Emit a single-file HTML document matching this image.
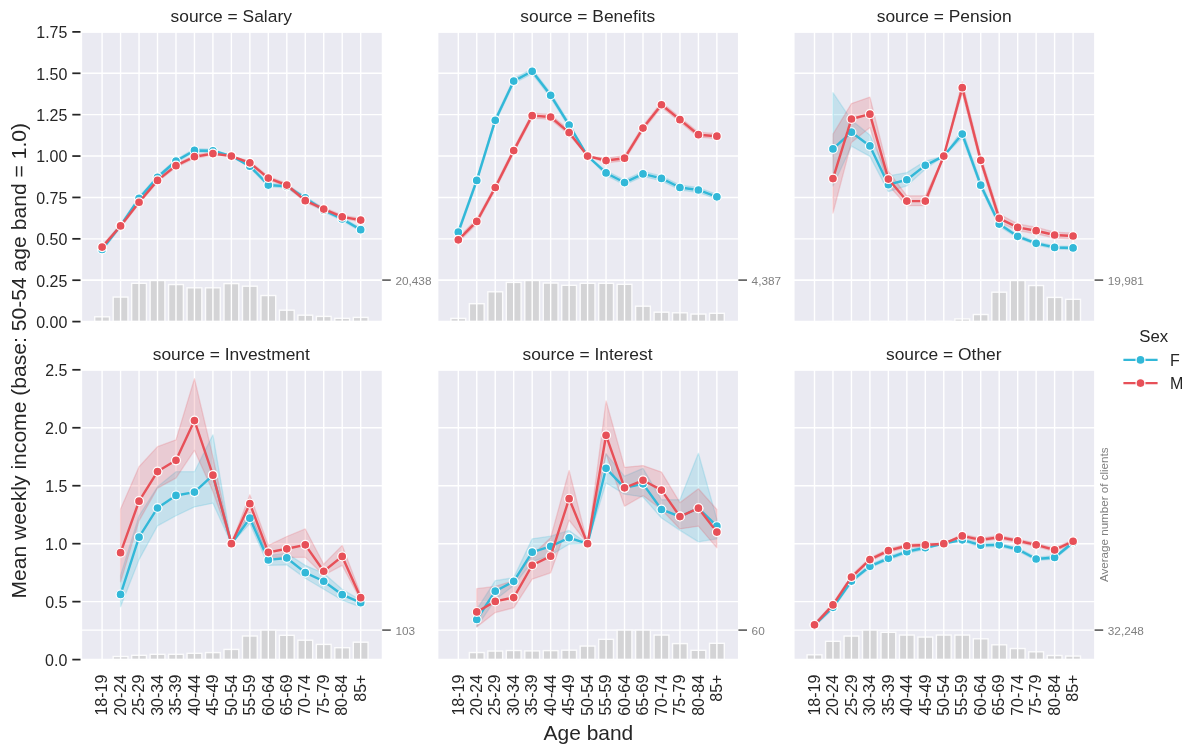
<!DOCTYPE html>
<html><head><meta charset="utf-8"><style>
html,body{margin:0;padding:0;background:#fff;width:1200px;height:755px;overflow:hidden}
svg{display:block;will-change:transform}
text{font-family:"Liberation Sans",sans-serif;white-space:pre}
</style></head><body>
<svg width="1200" height="755" viewBox="0 0 1200 755">
<rect width="1200" height="755" fill="#fff"/>
<rect x="81.3" y="31.9" width="301.3" height="289.7" fill="#EAEAF2"/>
<path d="M81.3 280.1H382.6" stroke="#fff" stroke-width="1.4"/>
<rect x="94.71" y="316.8" width="14.78" height="4.8" fill="#D4D4D6" stroke="#FBFBFC" stroke-width="1.4"/>
<rect x="113.18" y="297.05" width="14.78" height="24.55" fill="#D4D4D6" stroke="#FBFBFC" stroke-width="1.4"/>
<rect x="131.65" y="283.3" width="14.78" height="38.3" fill="#D4D4D6" stroke="#FBFBFC" stroke-width="1.4"/>
<rect x="150.12" y="280.5" width="14.78" height="41.1" fill="#D4D4D6" stroke="#FBFBFC" stroke-width="1.4"/>
<rect x="168.59" y="284.55" width="14.78" height="37.05" fill="#D4D4D6" stroke="#FBFBFC" stroke-width="1.4"/>
<rect x="187.06" y="287.8" width="14.78" height="33.8" fill="#D4D4D6" stroke="#FBFBFC" stroke-width="1.4"/>
<rect x="205.53" y="287.8" width="14.78" height="33.8" fill="#D4D4D6" stroke="#FBFBFC" stroke-width="1.4"/>
<rect x="224" y="283.6" width="14.78" height="38" fill="#D4D4D6" stroke="#FBFBFC" stroke-width="1.4"/>
<rect x="242.47" y="286.2" width="14.78" height="35.4" fill="#D4D4D6" stroke="#FBFBFC" stroke-width="1.4"/>
<rect x="260.94" y="295.55" width="14.78" height="26.05" fill="#D4D4D6" stroke="#FBFBFC" stroke-width="1.4"/>
<rect x="279.41" y="310.2" width="14.78" height="11.4" fill="#D4D4D6" stroke="#FBFBFC" stroke-width="1.4"/>
<rect x="297.88" y="315.2" width="14.78" height="6.4" fill="#D4D4D6" stroke="#FBFBFC" stroke-width="1.4"/>
<rect x="316.35" y="316.4" width="14.78" height="5.2" fill="#D4D4D6" stroke="#FBFBFC" stroke-width="1.4"/>
<rect x="334.82" y="318.3" width="14.78" height="3.3" fill="#D4D4D6" stroke="#FBFBFC" stroke-width="1.4"/>
<rect x="353.29" y="317.4" width="14.78" height="4.2" fill="#D4D4D6" stroke="#FBFBFC" stroke-width="1.4"/>
<path d="M102.1 31.9V321.6M120.57 31.9V321.6M139.04 31.9V321.6M157.51 31.9V321.6M175.98 31.9V321.6M194.45 31.9V321.6M212.92 31.9V321.6M231.39 31.9V321.6M249.86 31.9V321.6M268.33 31.9V321.6M286.8 31.9V321.6M305.27 31.9V321.6M323.74 31.9V321.6M342.21 31.9V321.6M360.68 31.9V321.6M81.3 321.6H382.6M81.3 280.21H382.6M81.3 238.83H382.6M81.3 197.44H382.6M81.3 156.06H382.6M81.3 114.67H382.6M81.3 73.29H382.6M81.3 31.9H382.6" stroke="#fff" stroke-width="1.4" fill="none"/>
<polygon points="102.1,247.77 120.57,223.93 139.04,196.78 157.51,175.59 175.98,159.37 194.45,148.77 212.92,149.1 231.39,156.06 249.86,164.5 268.33,183.37 286.8,184.7 305.27,196.28 323.74,208.53 342.21,217.31 360.68,228.07 360.68,231.38 342.21,220.62 323.74,211.85 305.27,199.59 286.8,188.01 268.33,186.68 249.86,167.81 231.39,156.06 212.92,152.42 194.45,152.08 175.98,162.68 157.51,178.9 139.04,200.09 120.57,227.24 102.1,251.08" fill="#32B8D8" fill-opacity="0.2" stroke="#32B8D8" stroke-opacity="0.2" stroke-width="1.3" stroke-linejoin="round"/>
<polygon points="102.1,245.45 120.57,224.26 139.04,200.59 157.51,178.74 175.98,164 194.45,155.06 212.92,151.92 231.39,156.06 249.86,161.19 268.33,176.42 286.8,183.37 305.27,199.02 323.74,207.38 342.21,215.16 360.68,218.47 360.68,221.78 342.21,218.47 323.74,210.69 305.27,202.33 286.8,186.68 268.33,179.73 249.86,164.5 231.39,156.06 212.92,155.23 194.45,158.37 175.98,167.31 157.51,182.05 139.04,203.9 120.57,227.57 102.1,248.76" fill="#E75058" fill-opacity="0.2" stroke="#E75058" stroke-opacity="0.2" stroke-width="1.3" stroke-linejoin="round"/>
<path d="M102.1 249.42L120.57 225.59L139.04 198.44L157.51 177.25L175.98 161.02L194.45 150.43L212.92 150.76L231.39 156.06L249.86 166.16L268.33 185.03L286.8 186.35L305.27 197.94L323.74 210.19L342.21 218.96L360.68 229.72" stroke="#32B8D8" stroke-width="2.4" fill="none" stroke-linejoin="round" stroke-linecap="round"/>
<circle cx="102.1" cy="249.42" r="4.45" fill="#32B8D8" stroke="#fff" stroke-width="1.2"/>
<circle cx="120.57" cy="225.59" r="4.45" fill="#32B8D8" stroke="#fff" stroke-width="1.2"/>
<circle cx="139.04" cy="198.44" r="4.45" fill="#32B8D8" stroke="#fff" stroke-width="1.2"/>
<circle cx="157.51" cy="177.25" r="4.45" fill="#32B8D8" stroke="#fff" stroke-width="1.2"/>
<circle cx="175.98" cy="161.02" r="4.45" fill="#32B8D8" stroke="#fff" stroke-width="1.2"/>
<circle cx="194.45" cy="150.43" r="4.45" fill="#32B8D8" stroke="#fff" stroke-width="1.2"/>
<circle cx="212.92" cy="150.76" r="4.45" fill="#32B8D8" stroke="#fff" stroke-width="1.2"/>
<circle cx="231.39" cy="156.06" r="4.45" fill="#32B8D8" stroke="#fff" stroke-width="1.2"/>
<circle cx="249.86" cy="166.16" r="4.45" fill="#32B8D8" stroke="#fff" stroke-width="1.2"/>
<circle cx="268.33" cy="185.03" r="4.45" fill="#32B8D8" stroke="#fff" stroke-width="1.2"/>
<circle cx="286.8" cy="186.35" r="4.45" fill="#32B8D8" stroke="#fff" stroke-width="1.2"/>
<circle cx="305.27" cy="197.94" r="4.45" fill="#32B8D8" stroke="#fff" stroke-width="1.2"/>
<circle cx="323.74" cy="210.19" r="4.45" fill="#32B8D8" stroke="#fff" stroke-width="1.2"/>
<circle cx="342.21" cy="218.96" r="4.45" fill="#32B8D8" stroke="#fff" stroke-width="1.2"/>
<circle cx="360.68" cy="229.72" r="4.45" fill="#32B8D8" stroke="#fff" stroke-width="1.2"/>
<path d="M102.1 247.11L120.57 225.92L139.04 202.24L157.51 180.39L175.98 165.66L194.45 156.72L212.92 153.57L231.39 156.06L249.86 162.84L268.33 178.07L286.8 185.03L305.27 200.67L323.74 209.03L342.21 216.81L360.68 220.12" stroke="#E75058" stroke-width="2.4" fill="none" stroke-linejoin="round" stroke-linecap="round"/>
<circle cx="102.1" cy="247.11" r="4.45" fill="#E75058" stroke="#fff" stroke-width="1.2"/>
<circle cx="120.57" cy="225.92" r="4.45" fill="#E75058" stroke="#fff" stroke-width="1.2"/>
<circle cx="139.04" cy="202.24" r="4.45" fill="#E75058" stroke="#fff" stroke-width="1.2"/>
<circle cx="157.51" cy="180.39" r="4.45" fill="#E75058" stroke="#fff" stroke-width="1.2"/>
<circle cx="175.98" cy="165.66" r="4.45" fill="#E75058" stroke="#fff" stroke-width="1.2"/>
<circle cx="194.45" cy="156.72" r="4.45" fill="#E75058" stroke="#fff" stroke-width="1.2"/>
<circle cx="212.92" cy="153.57" r="4.45" fill="#E75058" stroke="#fff" stroke-width="1.2"/>
<circle cx="231.39" cy="156.06" r="4.45" fill="#E75058" stroke="#fff" stroke-width="1.2"/>
<circle cx="249.86" cy="162.84" r="4.45" fill="#E75058" stroke="#fff" stroke-width="1.2"/>
<circle cx="268.33" cy="178.07" r="4.45" fill="#E75058" stroke="#fff" stroke-width="1.2"/>
<circle cx="286.8" cy="185.03" r="4.45" fill="#E75058" stroke="#fff" stroke-width="1.2"/>
<circle cx="305.27" cy="200.67" r="4.45" fill="#E75058" stroke="#fff" stroke-width="1.2"/>
<circle cx="323.74" cy="209.03" r="4.45" fill="#E75058" stroke="#fff" stroke-width="1.2"/>
<circle cx="342.21" cy="216.81" r="4.45" fill="#E75058" stroke="#fff" stroke-width="1.2"/>
<circle cx="360.68" cy="220.12" r="4.45" fill="#E75058" stroke="#fff" stroke-width="1.2"/>
<rect x="81.3" y="31.9" width="301.3" height="289.7" fill="none" stroke="#fff" stroke-width="1.74"/>
<text transform="translate(231.45,22.45) scale(1,0.963)" x="-60.91" y="0" font-size="17.4" textLength="121.38" lengthAdjust="spacing" fill="#262626">source = Salary</text>
<path d="M382.2 280.1h8.6" stroke="#6A6A6A" stroke-width="1.75"/>
<text transform="translate(395.40,284.50)" x="0.00" y="0" font-size="11.8" textLength="36.09" lengthAdjust="spacing" fill="#808080">20,438</text>
<path d="M72.3 321.6h8.2" stroke="#262626" stroke-width="1.75"/>
<text transform="translate(66.70,327.90) scale(1,1.035)" x="-30.52" y="0" font-size="16.0" textLength="31.14" lengthAdjust="spacing" fill="#262626">0.00</text>
<path d="M72.3 280.21h8.2" stroke="#262626" stroke-width="1.75"/>
<text transform="translate(66.70,286.51) scale(1,1.035)" x="-30.47" y="0" font-size="16.0" textLength="31.14" lengthAdjust="spacing" fill="#262626">0.25</text>
<path d="M72.3 238.83h8.2" stroke="#262626" stroke-width="1.75"/>
<text transform="translate(66.70,245.13) scale(1,1.035)" x="-30.52" y="0" font-size="16.0" textLength="31.14" lengthAdjust="spacing" fill="#262626">0.50</text>
<path d="M72.3 197.44h8.2" stroke="#262626" stroke-width="1.75"/>
<text transform="translate(66.70,203.74) scale(1,1.035)" x="-30.47" y="0" font-size="16.0" textLength="31.14" lengthAdjust="spacing" fill="#262626">0.75</text>
<path d="M72.3 156.06h8.2" stroke="#262626" stroke-width="1.75"/>
<text transform="translate(66.70,162.36) scale(1,1.035)" x="-30.52" y="0" font-size="16.0" textLength="31.14" lengthAdjust="spacing" fill="#262626">1.00</text>
<path d="M72.3 114.67h8.2" stroke="#262626" stroke-width="1.75"/>
<text transform="translate(66.70,120.97) scale(1,1.035)" x="-30.47" y="0" font-size="16.0" textLength="31.14" lengthAdjust="spacing" fill="#262626">1.25</text>
<path d="M72.3 73.29h8.2" stroke="#262626" stroke-width="1.75"/>
<text transform="translate(66.70,79.59) scale(1,1.035)" x="-30.52" y="0" font-size="16.0" textLength="31.14" lengthAdjust="spacing" fill="#262626">1.50</text>
<path d="M72.3 31.9h8.2" stroke="#262626" stroke-width="1.75"/>
<text transform="translate(66.70,38.20) scale(1,1.035)" x="-30.47" y="0" font-size="16.0" textLength="31.14" lengthAdjust="spacing" fill="#262626">1.75</text>
<rect x="437.5" y="31.9" width="301.3" height="289.7" fill="#EAEAF2"/>
<path d="M437.5 280.1H738.8" stroke="#fff" stroke-width="1.4"/>
<rect x="450.91" y="318.4" width="14.78" height="3.2" fill="#D4D4D6" stroke="#FBFBFC" stroke-width="1.4"/>
<rect x="469.38" y="303.7" width="14.78" height="17.9" fill="#D4D4D6" stroke="#FBFBFC" stroke-width="1.4"/>
<rect x="487.85" y="291.8" width="14.78" height="29.8" fill="#D4D4D6" stroke="#FBFBFC" stroke-width="1.4"/>
<rect x="506.32" y="282.4" width="14.78" height="39.2" fill="#D4D4D6" stroke="#FBFBFC" stroke-width="1.4"/>
<rect x="524.79" y="280.5" width="14.78" height="41.1" fill="#D4D4D6" stroke="#FBFBFC" stroke-width="1.4"/>
<rect x="543.26" y="283.05" width="14.78" height="38.55" fill="#D4D4D6" stroke="#FBFBFC" stroke-width="1.4"/>
<rect x="561.73" y="285.3" width="14.78" height="36.3" fill="#D4D4D6" stroke="#FBFBFC" stroke-width="1.4"/>
<rect x="580.2" y="283.3" width="14.78" height="38.3" fill="#D4D4D6" stroke="#FBFBFC" stroke-width="1.4"/>
<rect x="598.67" y="283.3" width="14.78" height="38.3" fill="#D4D4D6" stroke="#FBFBFC" stroke-width="1.4"/>
<rect x="617.14" y="284.3" width="14.78" height="37.3" fill="#D4D4D6" stroke="#FBFBFC" stroke-width="1.4"/>
<rect x="635.61" y="306.2" width="14.78" height="15.4" fill="#D4D4D6" stroke="#FBFBFC" stroke-width="1.4"/>
<rect x="654.08" y="312.2" width="14.78" height="9.4" fill="#D4D4D6" stroke="#FBFBFC" stroke-width="1.4"/>
<rect x="672.55" y="312.8" width="14.78" height="8.8" fill="#D4D4D6" stroke="#FBFBFC" stroke-width="1.4"/>
<rect x="691.02" y="314.05" width="14.78" height="7.55" fill="#D4D4D6" stroke="#FBFBFC" stroke-width="1.4"/>
<rect x="709.49" y="313.3" width="14.78" height="8.3" fill="#D4D4D6" stroke="#FBFBFC" stroke-width="1.4"/>
<path d="M458.3 31.9V321.6M476.77 31.9V321.6M495.24 31.9V321.6M513.71 31.9V321.6M532.18 31.9V321.6M550.65 31.9V321.6M569.12 31.9V321.6M587.59 31.9V321.6M606.06 31.9V321.6M624.53 31.9V321.6M643 31.9V321.6M661.47 31.9V321.6M679.94 31.9V321.6M698.41 31.9V321.6M716.88 31.9V321.6M437.5 321.6H738.8M437.5 280.21H738.8M437.5 238.83H738.8M437.5 197.44H738.8M437.5 156.06H738.8M437.5 114.67H738.8M437.5 73.29H738.8M437.5 31.9H738.8" stroke="#fff" stroke-width="1.4" fill="none"/>
<polygon points="458.3,229.72 476.77,177.91 495.24,117.82 513.71,78.58 532.18,68.82 550.65,92.82 569.12,122.62 587.59,156.06 606.06,170.46 624.53,180.06 643,171.45 661.47,175.92 679.94,185.03 698.41,187.51 716.88,194.3 716.88,199.26 698.41,192.48 679.94,189.99 661.47,180.89 643,176.42 624.53,185.03 606.06,175.43 587.59,156.06 569.12,127.58 550.65,97.79 532.18,73.78 513.71,83.55 495.24,122.78 476.77,182.88 458.3,234.69" fill="#32B8D8" fill-opacity="0.2" stroke="#32B8D8" stroke-opacity="0.2" stroke-width="1.3" stroke-linejoin="round"/>
<polygon points="458.3,237.34 476.77,218.96 495.24,185.03 513.71,148.11 532.18,113.18 550.65,114.51 569.12,130.07 587.59,156.06 606.06,158.04 624.53,155.73 643,125.6 661.47,102.26 679.94,117.15 698.41,132.22 716.88,133.71 716.88,138.68 698.41,137.19 679.94,122.12 661.47,107.22 643,130.56 624.53,160.69 606.06,163.01 587.59,156.06 569.12,135.03 550.65,119.47 532.18,118.15 513.71,153.08 495.24,189.99 476.77,223.93 458.3,242.3" fill="#E75058" fill-opacity="0.2" stroke="#E75058" stroke-opacity="0.2" stroke-width="1.3" stroke-linejoin="round"/>
<path d="M458.3 232.21L476.77 180.39L495.24 120.3L513.71 81.07L532.18 71.3L550.65 95.3L569.12 125.1L587.59 156.06L606.06 172.94L624.53 182.54L643 173.94L661.47 178.41L679.94 187.51L698.41 189.99L716.88 196.78" stroke="#32B8D8" stroke-width="2.4" fill="none" stroke-linejoin="round" stroke-linecap="round"/>
<circle cx="458.3" cy="232.21" r="4.45" fill="#32B8D8" stroke="#fff" stroke-width="1.2"/>
<circle cx="476.77" cy="180.39" r="4.45" fill="#32B8D8" stroke="#fff" stroke-width="1.2"/>
<circle cx="495.24" cy="120.3" r="4.45" fill="#32B8D8" stroke="#fff" stroke-width="1.2"/>
<circle cx="513.71" cy="81.07" r="4.45" fill="#32B8D8" stroke="#fff" stroke-width="1.2"/>
<circle cx="532.18" cy="71.3" r="4.45" fill="#32B8D8" stroke="#fff" stroke-width="1.2"/>
<circle cx="550.65" cy="95.3" r="4.45" fill="#32B8D8" stroke="#fff" stroke-width="1.2"/>
<circle cx="569.12" cy="125.1" r="4.45" fill="#32B8D8" stroke="#fff" stroke-width="1.2"/>
<circle cx="587.59" cy="156.06" r="4.45" fill="#32B8D8" stroke="#fff" stroke-width="1.2"/>
<circle cx="606.06" cy="172.94" r="4.45" fill="#32B8D8" stroke="#fff" stroke-width="1.2"/>
<circle cx="624.53" cy="182.54" r="4.45" fill="#32B8D8" stroke="#fff" stroke-width="1.2"/>
<circle cx="643" cy="173.94" r="4.45" fill="#32B8D8" stroke="#fff" stroke-width="1.2"/>
<circle cx="661.47" cy="178.41" r="4.45" fill="#32B8D8" stroke="#fff" stroke-width="1.2"/>
<circle cx="679.94" cy="187.51" r="4.45" fill="#32B8D8" stroke="#fff" stroke-width="1.2"/>
<circle cx="698.41" cy="189.99" r="4.45" fill="#32B8D8" stroke="#fff" stroke-width="1.2"/>
<circle cx="716.88" cy="196.78" r="4.45" fill="#32B8D8" stroke="#fff" stroke-width="1.2"/>
<path d="M458.3 239.82L476.77 221.45L495.24 187.51L513.71 150.59L532.18 115.66L550.65 116.99L569.12 132.55L587.59 156.06L606.06 160.53L624.53 158.21L643 128.08L661.47 104.74L679.94 119.64L698.41 134.7L716.88 136.19" stroke="#E75058" stroke-width="2.4" fill="none" stroke-linejoin="round" stroke-linecap="round"/>
<circle cx="458.3" cy="239.82" r="4.45" fill="#E75058" stroke="#fff" stroke-width="1.2"/>
<circle cx="476.77" cy="221.45" r="4.45" fill="#E75058" stroke="#fff" stroke-width="1.2"/>
<circle cx="495.24" cy="187.51" r="4.45" fill="#E75058" stroke="#fff" stroke-width="1.2"/>
<circle cx="513.71" cy="150.59" r="4.45" fill="#E75058" stroke="#fff" stroke-width="1.2"/>
<circle cx="532.18" cy="115.66" r="4.45" fill="#E75058" stroke="#fff" stroke-width="1.2"/>
<circle cx="550.65" cy="116.99" r="4.45" fill="#E75058" stroke="#fff" stroke-width="1.2"/>
<circle cx="569.12" cy="132.55" r="4.45" fill="#E75058" stroke="#fff" stroke-width="1.2"/>
<circle cx="587.59" cy="156.06" r="4.45" fill="#E75058" stroke="#fff" stroke-width="1.2"/>
<circle cx="606.06" cy="160.53" r="4.45" fill="#E75058" stroke="#fff" stroke-width="1.2"/>
<circle cx="624.53" cy="158.21" r="4.45" fill="#E75058" stroke="#fff" stroke-width="1.2"/>
<circle cx="643" cy="128.08" r="4.45" fill="#E75058" stroke="#fff" stroke-width="1.2"/>
<circle cx="661.47" cy="104.74" r="4.45" fill="#E75058" stroke="#fff" stroke-width="1.2"/>
<circle cx="679.94" cy="119.64" r="4.45" fill="#E75058" stroke="#fff" stroke-width="1.2"/>
<circle cx="698.41" cy="134.7" r="4.45" fill="#E75058" stroke="#fff" stroke-width="1.2"/>
<circle cx="716.88" cy="136.19" r="4.45" fill="#E75058" stroke="#fff" stroke-width="1.2"/>
<rect x="437.5" y="31.9" width="301.3" height="289.7" fill="none" stroke="#fff" stroke-width="1.74"/>
<text transform="translate(587.65,22.45) scale(1,0.963)" x="-67.39" y="0" font-size="17.4" textLength="134.93" lengthAdjust="spacing" fill="#262626">source = Benefits</text>
<path d="M738.4 280.1h8.6" stroke="#6A6A6A" stroke-width="1.75"/>
<text transform="translate(751.60,284.50)" x="0.00" y="0" font-size="11.8" textLength="29.53" lengthAdjust="spacing" fill="#808080">4,387</text>
<rect x="793.7" y="31.9" width="301.3" height="289.7" fill="#EAEAF2"/>
<path d="M793.7 280.1H1095" stroke="#fff" stroke-width="1.4"/>
<rect x="825.58" y="321.6" width="14.78" height="0.1" fill="#D4D4D6" stroke="#FBFBFC" stroke-width="1.4"/>
<rect x="844.05" y="321.6" width="14.78" height="0.1" fill="#D4D4D6" stroke="#FBFBFC" stroke-width="1.4"/>
<rect x="862.52" y="321.6" width="14.78" height="0.1" fill="#D4D4D6" stroke="#FBFBFC" stroke-width="1.4"/>
<rect x="880.99" y="321.5" width="14.78" height="0.1" fill="#D4D4D6" stroke="#FBFBFC" stroke-width="1.4"/>
<rect x="899.46" y="321.5" width="14.78" height="0.1" fill="#D4D4D6" stroke="#FBFBFC" stroke-width="1.4"/>
<rect x="917.93" y="321.4" width="14.78" height="0.2" fill="#D4D4D6" stroke="#FBFBFC" stroke-width="1.4"/>
<rect x="936.4" y="321.4" width="14.78" height="0.2" fill="#D4D4D6" stroke="#FBFBFC" stroke-width="1.4"/>
<rect x="954.87" y="318.9" width="14.78" height="2.7" fill="#D4D4D6" stroke="#FBFBFC" stroke-width="1.4"/>
<rect x="973.34" y="314.55" width="14.78" height="7.05" fill="#D4D4D6" stroke="#FBFBFC" stroke-width="1.4"/>
<rect x="991.81" y="292.2" width="14.78" height="29.4" fill="#D4D4D6" stroke="#FBFBFC" stroke-width="1.4"/>
<rect x="1010.28" y="280.5" width="14.78" height="41.1" fill="#D4D4D6" stroke="#FBFBFC" stroke-width="1.4"/>
<rect x="1028.75" y="285.55" width="14.78" height="36.05" fill="#D4D4D6" stroke="#FBFBFC" stroke-width="1.4"/>
<rect x="1047.22" y="297.4" width="14.78" height="24.2" fill="#D4D4D6" stroke="#FBFBFC" stroke-width="1.4"/>
<rect x="1065.69" y="299.3" width="14.78" height="22.3" fill="#D4D4D6" stroke="#FBFBFC" stroke-width="1.4"/>
<path d="M814.5 31.9V321.6M832.97 31.9V321.6M851.44 31.9V321.6M869.91 31.9V321.6M888.38 31.9V321.6M906.85 31.9V321.6M925.32 31.9V321.6M943.79 31.9V321.6M962.26 31.9V321.6M980.73 31.9V321.6M999.2 31.9V321.6M1017.67 31.9V321.6M1036.14 31.9V321.6M1054.61 31.9V321.6M1073.08 31.9V321.6M793.7 321.6H1095M793.7 280.21H1095M793.7 238.83H1095M793.7 197.44H1095M793.7 156.06H1095M793.7 114.67H1095M793.7 73.29H1095M793.7 31.9H1095" stroke="#fff" stroke-width="1.4" fill="none"/>
<polygon points="832.97,92.65 851.44,120.13 869.91,135.03 888.38,175.92 906.85,172.61 925.32,161.02 943.79,156.06 962.26,129.57 980.73,181.72 999.2,222.27 1017.67,234.69 1036.14,241.64 1054.61,245.78 1073.08,246.28 1073.08,249.59 1054.61,249.09 1036.14,244.95 1017.67,238 999.2,226.41 980.73,188.34 962.26,137.85 943.79,156.06 925.32,169.3 906.85,185.85 888.38,191.65 869.91,156.39 851.44,146.12 832.97,186.02" fill="#32B8D8" fill-opacity="0.2" stroke="#32B8D8" stroke-opacity="0.2" stroke-width="1.3" stroke-linejoin="round"/>
<polygon points="832.97,134.21 851.44,103.58 869.91,97.12 888.38,171.29 906.85,195.79 925.32,195.79 943.79,156.06 962.26,81.56 980.73,156.06 999.2,214 1017.67,223.93 1036.14,227.24 1054.61,232.21 1073.08,233.03 1073.08,238.83 1054.61,238 1036.14,233.86 1017.67,230.55 999.2,222.27 980.73,164.33 962.26,93.15 943.79,156.06 925.32,205.72 906.85,205.72 888.38,185.19 869.91,127.58 851.44,142.48 832.97,213" fill="#E75058" fill-opacity="0.2" stroke="#E75058" stroke-opacity="0.2" stroke-width="1.3" stroke-linejoin="round"/>
<path d="M832.97 148.94L851.44 132.22L869.91 145.96L888.38 184.7L906.85 179.73L925.32 165.33L943.79 156.06L962.26 134.04L980.73 185.19L999.2 224.1L1017.67 236.35L1036.14 243.3L1054.61 247.44L1073.08 247.93" stroke="#32B8D8" stroke-width="2.4" fill="none" stroke-linejoin="round" stroke-linecap="round"/>
<circle cx="832.97" cy="148.94" r="4.45" fill="#32B8D8" stroke="#fff" stroke-width="1.2"/>
<circle cx="851.44" cy="132.22" r="4.45" fill="#32B8D8" stroke="#fff" stroke-width="1.2"/>
<circle cx="869.91" cy="145.96" r="4.45" fill="#32B8D8" stroke="#fff" stroke-width="1.2"/>
<circle cx="888.38" cy="184.7" r="4.45" fill="#32B8D8" stroke="#fff" stroke-width="1.2"/>
<circle cx="906.85" cy="179.73" r="4.45" fill="#32B8D8" stroke="#fff" stroke-width="1.2"/>
<circle cx="925.32" cy="165.33" r="4.45" fill="#32B8D8" stroke="#fff" stroke-width="1.2"/>
<circle cx="943.79" cy="156.06" r="4.45" fill="#32B8D8" stroke="#fff" stroke-width="1.2"/>
<circle cx="962.26" cy="134.04" r="4.45" fill="#32B8D8" stroke="#fff" stroke-width="1.2"/>
<circle cx="980.73" cy="185.19" r="4.45" fill="#32B8D8" stroke="#fff" stroke-width="1.2"/>
<circle cx="999.2" cy="224.1" r="4.45" fill="#32B8D8" stroke="#fff" stroke-width="1.2"/>
<circle cx="1017.67" cy="236.35" r="4.45" fill="#32B8D8" stroke="#fff" stroke-width="1.2"/>
<circle cx="1036.14" cy="243.3" r="4.45" fill="#32B8D8" stroke="#fff" stroke-width="1.2"/>
<circle cx="1054.61" cy="247.44" r="4.45" fill="#32B8D8" stroke="#fff" stroke-width="1.2"/>
<circle cx="1073.08" cy="247.93" r="4.45" fill="#32B8D8" stroke="#fff" stroke-width="1.2"/>
<path d="M832.97 178.57L851.44 118.98L869.91 114.17L888.38 179.07L906.85 201.08L925.32 201.08L943.79 156.06L962.26 87.69L980.73 160.36L999.2 218.3L1017.67 227.41L1036.14 230.72L1054.61 235.02L1073.08 236.01" stroke="#E75058" stroke-width="2.4" fill="none" stroke-linejoin="round" stroke-linecap="round"/>
<circle cx="832.97" cy="178.57" r="4.45" fill="#E75058" stroke="#fff" stroke-width="1.2"/>
<circle cx="851.44" cy="118.98" r="4.45" fill="#E75058" stroke="#fff" stroke-width="1.2"/>
<circle cx="869.91" cy="114.17" r="4.45" fill="#E75058" stroke="#fff" stroke-width="1.2"/>
<circle cx="888.38" cy="179.07" r="4.45" fill="#E75058" stroke="#fff" stroke-width="1.2"/>
<circle cx="906.85" cy="201.08" r="4.45" fill="#E75058" stroke="#fff" stroke-width="1.2"/>
<circle cx="925.32" cy="201.08" r="4.45" fill="#E75058" stroke="#fff" stroke-width="1.2"/>
<circle cx="943.79" cy="156.06" r="4.45" fill="#E75058" stroke="#fff" stroke-width="1.2"/>
<circle cx="962.26" cy="87.69" r="4.45" fill="#E75058" stroke="#fff" stroke-width="1.2"/>
<circle cx="980.73" cy="160.36" r="4.45" fill="#E75058" stroke="#fff" stroke-width="1.2"/>
<circle cx="999.2" cy="218.3" r="4.45" fill="#E75058" stroke="#fff" stroke-width="1.2"/>
<circle cx="1017.67" cy="227.41" r="4.45" fill="#E75058" stroke="#fff" stroke-width="1.2"/>
<circle cx="1036.14" cy="230.72" r="4.45" fill="#E75058" stroke="#fff" stroke-width="1.2"/>
<circle cx="1054.61" cy="235.02" r="4.45" fill="#E75058" stroke="#fff" stroke-width="1.2"/>
<circle cx="1073.08" cy="236.01" r="4.45" fill="#E75058" stroke="#fff" stroke-width="1.2"/>
<rect x="793.7" y="31.9" width="301.3" height="289.7" fill="none" stroke="#fff" stroke-width="1.74"/>
<text transform="translate(943.85,22.45) scale(1,0.963)" x="-67.14" y="0" font-size="17.4" textLength="134.93" lengthAdjust="spacing" fill="#262626">source = Pension</text>
<path d="M1094.6 280.1h8.6" stroke="#6A6A6A" stroke-width="1.75"/>
<text transform="translate(1107.80,284.50)" x="0.00" y="0" font-size="11.8" textLength="36.09" lengthAdjust="spacing" fill="#808080">19,981</text>
<rect x="81.3" y="369.8" width="301.3" height="289.8" fill="#EAEAF2"/>
<path d="M81.3 630.1H382.6" stroke="#fff" stroke-width="1.4"/>
<rect x="113.18" y="656.5" width="14.78" height="3.1" fill="#D4D4D6" stroke="#FBFBFC" stroke-width="1.4"/>
<rect x="131.65" y="655.3" width="14.78" height="4.3" fill="#D4D4D6" stroke="#FBFBFC" stroke-width="1.4"/>
<rect x="150.12" y="654.3" width="14.78" height="5.3" fill="#D4D4D6" stroke="#FBFBFC" stroke-width="1.4"/>
<rect x="168.59" y="654.3" width="14.78" height="5.3" fill="#D4D4D6" stroke="#FBFBFC" stroke-width="1.4"/>
<rect x="187.06" y="653.3" width="14.78" height="6.3" fill="#D4D4D6" stroke="#FBFBFC" stroke-width="1.4"/>
<rect x="205.53" y="652.6" width="14.78" height="7" fill="#D4D4D6" stroke="#FBFBFC" stroke-width="1.4"/>
<rect x="224" y="649.4" width="14.78" height="10.2" fill="#D4D4D6" stroke="#FBFBFC" stroke-width="1.4"/>
<rect x="242.47" y="636" width="14.78" height="23.6" fill="#D4D4D6" stroke="#FBFBFC" stroke-width="1.4"/>
<rect x="260.94" y="630.1" width="14.78" height="29.5" fill="#D4D4D6" stroke="#FBFBFC" stroke-width="1.4"/>
<rect x="279.41" y="635.3" width="14.78" height="24.3" fill="#D4D4D6" stroke="#FBFBFC" stroke-width="1.4"/>
<rect x="297.88" y="640.2" width="14.78" height="19.4" fill="#D4D4D6" stroke="#FBFBFC" stroke-width="1.4"/>
<rect x="316.35" y="644.4" width="14.78" height="15.2" fill="#D4D4D6" stroke="#FBFBFC" stroke-width="1.4"/>
<rect x="334.82" y="647.7" width="14.78" height="11.9" fill="#D4D4D6" stroke="#FBFBFC" stroke-width="1.4"/>
<rect x="353.29" y="642.2" width="14.78" height="17.4" fill="#D4D4D6" stroke="#FBFBFC" stroke-width="1.4"/>
<path d="M102.1 369.8V659.6M120.57 369.8V659.6M139.04 369.8V659.6M157.51 369.8V659.6M175.98 369.8V659.6M194.45 369.8V659.6M212.92 369.8V659.6M231.39 369.8V659.6M249.86 369.8V659.6M268.33 369.8V659.6M286.8 369.8V659.6M305.27 369.8V659.6M323.74 369.8V659.6M342.21 369.8V659.6M360.68 369.8V659.6M81.3 659.6H382.6M81.3 601.64H382.6M81.3 543.68H382.6M81.3 485.72H382.6M81.3 427.76H382.6M81.3 369.8H382.6" stroke="#fff" stroke-width="1.4" fill="none"/>
<polygon points="120.57,575.33 139.04,515.74 157.51,486.76 175.98,471.69 194.45,471.69 212.92,434.83 231.39,543.68 249.86,512.61 268.33,555.39 286.8,553.42 305.27,565.36 323.74,573.36 342.21,589.24 360.68,600.13 360.68,607.09 342.21,600.13 323.74,589.24 305.27,578.22 286.8,564.89 268.33,565.36 249.86,523.63 231.39,543.68 212.92,503.22 194.45,506.93 175.98,515.74 157.51,525.83 139.04,559.68 120.57,606.74" fill="#32B8D8" fill-opacity="0.2" stroke="#32B8D8" stroke-opacity="0.2" stroke-width="1.3" stroke-linejoin="round"/>
<polygon points="120.57,509.02 139.04,466.71 157.51,446.65 175.98,439.82 194.45,378.73 212.92,456.74 231.39,543.68 249.86,494.76 268.33,545.42 286.8,536.49 305.27,528.96 323.74,564.31 342.21,545.42 360.68,594.11 360.68,600.13 342.21,565.36 323.74,575.21 305.27,557.36 286.8,557.36 268.33,557.36 249.86,512.61 231.39,543.68 212.92,491.52 194.45,450.36 175.98,478.07 157.51,488.15 139.04,520.84 120.57,581.93" fill="#E75058" fill-opacity="0.2" stroke="#E75058" stroke-opacity="0.2" stroke-width="1.3" stroke-linejoin="round"/>
<path d="M120.57 594.45L139.04 537.19L157.51 507.98L175.98 495.46L194.45 492.1L212.92 475.17L231.39 543.68L249.86 518.18L268.33 559.91L286.8 557.94L305.27 572.66L323.74 581.24L342.21 594.68L360.68 602.68" stroke="#32B8D8" stroke-width="2.4" fill="none" stroke-linejoin="round" stroke-linecap="round"/>
<circle cx="120.57" cy="594.45" r="4.45" fill="#32B8D8" stroke="#fff" stroke-width="1.2"/>
<circle cx="139.04" cy="537.19" r="4.45" fill="#32B8D8" stroke="#fff" stroke-width="1.2"/>
<circle cx="157.51" cy="507.98" r="4.45" fill="#32B8D8" stroke="#fff" stroke-width="1.2"/>
<circle cx="175.98" cy="495.46" r="4.45" fill="#32B8D8" stroke="#fff" stroke-width="1.2"/>
<circle cx="194.45" cy="492.1" r="4.45" fill="#32B8D8" stroke="#fff" stroke-width="1.2"/>
<circle cx="212.92" cy="475.17" r="4.45" fill="#32B8D8" stroke="#fff" stroke-width="1.2"/>
<circle cx="231.39" cy="543.68" r="4.45" fill="#32B8D8" stroke="#fff" stroke-width="1.2"/>
<circle cx="249.86" cy="518.18" r="4.45" fill="#32B8D8" stroke="#fff" stroke-width="1.2"/>
<circle cx="268.33" cy="559.91" r="4.45" fill="#32B8D8" stroke="#fff" stroke-width="1.2"/>
<circle cx="286.8" cy="557.94" r="4.45" fill="#32B8D8" stroke="#fff" stroke-width="1.2"/>
<circle cx="305.27" cy="572.66" r="4.45" fill="#32B8D8" stroke="#fff" stroke-width="1.2"/>
<circle cx="323.74" cy="581.24" r="4.45" fill="#32B8D8" stroke="#fff" stroke-width="1.2"/>
<circle cx="342.21" cy="594.68" r="4.45" fill="#32B8D8" stroke="#fff" stroke-width="1.2"/>
<circle cx="360.68" cy="602.68" r="4.45" fill="#32B8D8" stroke="#fff" stroke-width="1.2"/>
<path d="M120.57 552.72L139.04 501.14L157.51 471.58L175.98 460.33L194.45 420.57L212.92 475.17L231.39 543.68L249.86 503.69L268.33 552.37L286.8 548.78L305.27 544.84L323.74 571.27L342.21 556.43L360.68 597.7" stroke="#E75058" stroke-width="2.4" fill="none" stroke-linejoin="round" stroke-linecap="round"/>
<circle cx="120.57" cy="552.72" r="4.45" fill="#E75058" stroke="#fff" stroke-width="1.2"/>
<circle cx="139.04" cy="501.14" r="4.45" fill="#E75058" stroke="#fff" stroke-width="1.2"/>
<circle cx="157.51" cy="471.58" r="4.45" fill="#E75058" stroke="#fff" stroke-width="1.2"/>
<circle cx="175.98" cy="460.33" r="4.45" fill="#E75058" stroke="#fff" stroke-width="1.2"/>
<circle cx="194.45" cy="420.57" r="4.45" fill="#E75058" stroke="#fff" stroke-width="1.2"/>
<circle cx="212.92" cy="475.17" r="4.45" fill="#E75058" stroke="#fff" stroke-width="1.2"/>
<circle cx="231.39" cy="543.68" r="4.45" fill="#E75058" stroke="#fff" stroke-width="1.2"/>
<circle cx="249.86" cy="503.69" r="4.45" fill="#E75058" stroke="#fff" stroke-width="1.2"/>
<circle cx="268.33" cy="552.37" r="4.45" fill="#E75058" stroke="#fff" stroke-width="1.2"/>
<circle cx="286.8" cy="548.78" r="4.45" fill="#E75058" stroke="#fff" stroke-width="1.2"/>
<circle cx="305.27" cy="544.84" r="4.45" fill="#E75058" stroke="#fff" stroke-width="1.2"/>
<circle cx="323.74" cy="571.27" r="4.45" fill="#E75058" stroke="#fff" stroke-width="1.2"/>
<circle cx="342.21" cy="556.43" r="4.45" fill="#E75058" stroke="#fff" stroke-width="1.2"/>
<circle cx="360.68" cy="597.7" r="4.45" fill="#E75058" stroke="#fff" stroke-width="1.2"/>
<rect x="81.3" y="369.8" width="301.3" height="289.8" fill="none" stroke="#fff" stroke-width="1.74"/>
<text transform="translate(231.45,360.40) scale(1,0.963)" x="-78.76" y="0" font-size="17.4" textLength="157.16" lengthAdjust="spacing" fill="#262626">source = Investment</text>
<path d="M382.2 630.1h8.6" stroke="#6A6A6A" stroke-width="1.75"/>
<text transform="translate(395.40,634.50)" x="0.00" y="0" font-size="11.8" textLength="19.69" lengthAdjust="spacing" fill="#808080">103</text>
<path d="M72.3 659.6h8.2" stroke="#262626" stroke-width="1.75"/>
<text transform="translate(66.70,665.90) scale(1,1.035)" x="-21.62" y="0" font-size="16.0" textLength="22.24" lengthAdjust="spacing" fill="#262626">0.0</text>
<path d="M72.3 601.64h8.2" stroke="#262626" stroke-width="1.75"/>
<text transform="translate(66.70,607.94) scale(1,1.035)" x="-21.57" y="0" font-size="16.0" textLength="22.24" lengthAdjust="spacing" fill="#262626">0.5</text>
<path d="M72.3 543.68h8.2" stroke="#262626" stroke-width="1.75"/>
<text transform="translate(66.70,549.98) scale(1,1.035)" x="-21.62" y="0" font-size="16.0" textLength="22.24" lengthAdjust="spacing" fill="#262626">1.0</text>
<path d="M72.3 485.72h8.2" stroke="#262626" stroke-width="1.75"/>
<text transform="translate(66.70,492.02) scale(1,1.035)" x="-21.57" y="0" font-size="16.0" textLength="22.24" lengthAdjust="spacing" fill="#262626">1.5</text>
<path d="M72.3 427.76h8.2" stroke="#262626" stroke-width="1.75"/>
<text transform="translate(66.70,434.06) scale(1,1.035)" x="-21.62" y="0" font-size="16.0" textLength="22.24" lengthAdjust="spacing" fill="#262626">2.0</text>
<path d="M72.3 369.8h8.2" stroke="#262626" stroke-width="1.75"/>
<text transform="translate(66.70,376.10) scale(1,1.035)" x="-21.57" y="0" font-size="16.0" textLength="22.24" lengthAdjust="spacing" fill="#262626">2.5</text>
<text transform="translate(107.30,675.40) rotate(-90)" x="-40.16" y="0" font-size="16.0" textLength="40.92" lengthAdjust="spacing" fill="#262626">18-19</text>
<text transform="translate(125.77,675.40) rotate(-90)" x="-40.45" y="0" font-size="16.0" textLength="40.92" lengthAdjust="spacing" fill="#262626">20-24</text>
<text transform="translate(144.24,675.40) rotate(-90)" x="-40.16" y="0" font-size="16.0" textLength="40.92" lengthAdjust="spacing" fill="#262626">25-29</text>
<text transform="translate(162.71,675.40) rotate(-90)" x="-40.45" y="0" font-size="16.0" textLength="40.92" lengthAdjust="spacing" fill="#262626">30-34</text>
<text transform="translate(181.18,675.40) rotate(-90)" x="-40.16" y="0" font-size="16.0" textLength="40.92" lengthAdjust="spacing" fill="#262626">35-39</text>
<text transform="translate(199.65,675.40) rotate(-90)" x="-40.45" y="0" font-size="16.0" textLength="40.92" lengthAdjust="spacing" fill="#262626">40-44</text>
<text transform="translate(218.12,675.40) rotate(-90)" x="-40.16" y="0" font-size="16.0" textLength="40.92" lengthAdjust="spacing" fill="#262626">45-49</text>
<text transform="translate(236.59,675.40) rotate(-90)" x="-40.45" y="0" font-size="16.0" textLength="40.92" lengthAdjust="spacing" fill="#262626">50-54</text>
<text transform="translate(255.06,675.40) rotate(-90)" x="-40.16" y="0" font-size="16.0" textLength="40.92" lengthAdjust="spacing" fill="#262626">55-59</text>
<text transform="translate(273.53,675.40) rotate(-90)" x="-40.45" y="0" font-size="16.0" textLength="40.92" lengthAdjust="spacing" fill="#262626">60-64</text>
<text transform="translate(292.00,675.40) rotate(-90)" x="-40.16" y="0" font-size="16.0" textLength="40.92" lengthAdjust="spacing" fill="#262626">65-69</text>
<text transform="translate(310.47,675.40) rotate(-90)" x="-40.45" y="0" font-size="16.0" textLength="40.92" lengthAdjust="spacing" fill="#262626">70-74</text>
<text transform="translate(328.94,675.40) rotate(-90)" x="-40.16" y="0" font-size="16.0" textLength="40.92" lengthAdjust="spacing" fill="#262626">75-79</text>
<text transform="translate(347.41,675.40) rotate(-90)" x="-40.45" y="0" font-size="16.0" textLength="40.92" lengthAdjust="spacing" fill="#262626">80-84</text>
<text transform="translate(365.88,675.40) rotate(-90)" x="-26.35" y="0" font-size="16.0" textLength="27.14" lengthAdjust="spacing" fill="#262626">85+</text>
<rect x="437.5" y="369.8" width="301.3" height="289.8" fill="#EAEAF2"/>
<path d="M437.5 630.1H738.8" stroke="#fff" stroke-width="1.4"/>
<rect x="469.38" y="652.55" width="14.78" height="7.05" fill="#D4D4D6" stroke="#FBFBFC" stroke-width="1.4"/>
<rect x="487.85" y="651.05" width="14.78" height="8.55" fill="#D4D4D6" stroke="#FBFBFC" stroke-width="1.4"/>
<rect x="506.32" y="650.5" width="14.78" height="9.1" fill="#D4D4D6" stroke="#FBFBFC" stroke-width="1.4"/>
<rect x="524.79" y="650.9" width="14.78" height="8.7" fill="#D4D4D6" stroke="#FBFBFC" stroke-width="1.4"/>
<rect x="543.26" y="650.6" width="14.78" height="9" fill="#D4D4D6" stroke="#FBFBFC" stroke-width="1.4"/>
<rect x="561.73" y="650.2" width="14.78" height="9.4" fill="#D4D4D6" stroke="#FBFBFC" stroke-width="1.4"/>
<rect x="580.2" y="646.05" width="14.78" height="13.55" fill="#D4D4D6" stroke="#FBFBFC" stroke-width="1.4"/>
<rect x="598.67" y="639.3" width="14.78" height="20.3" fill="#D4D4D6" stroke="#FBFBFC" stroke-width="1.4"/>
<rect x="617.14" y="630.1" width="14.78" height="29.5" fill="#D4D4D6" stroke="#FBFBFC" stroke-width="1.4"/>
<rect x="635.61" y="630.1" width="14.78" height="29.5" fill="#D4D4D6" stroke="#FBFBFC" stroke-width="1.4"/>
<rect x="654.08" y="635.05" width="14.78" height="24.55" fill="#D4D4D6" stroke="#FBFBFC" stroke-width="1.4"/>
<rect x="672.55" y="643.6" width="14.78" height="16" fill="#D4D4D6" stroke="#FBFBFC" stroke-width="1.4"/>
<rect x="691.02" y="650.3" width="14.78" height="9.3" fill="#D4D4D6" stroke="#FBFBFC" stroke-width="1.4"/>
<rect x="709.49" y="643.3" width="14.78" height="16.3" fill="#D4D4D6" stroke="#FBFBFC" stroke-width="1.4"/>
<path d="M458.3 369.8V659.6M476.77 369.8V659.6M495.24 369.8V659.6M513.71 369.8V659.6M532.18 369.8V659.6M550.65 369.8V659.6M569.12 369.8V659.6M587.59 369.8V659.6M606.06 369.8V659.6M624.53 369.8V659.6M643 369.8V659.6M661.47 369.8V659.6M679.94 369.8V659.6M698.41 369.8V659.6M716.88 369.8V659.6M437.5 659.6H738.8M437.5 601.64H738.8M437.5 543.68H738.8M437.5 485.72H738.8M437.5 427.76H738.8M437.5 369.8H738.8" stroke="#fff" stroke-width="1.4" fill="none"/>
<polygon points="476.77,609.41 495.24,580.66 513.71,577.64 532.18,538.81 550.65,536.15 569.12,530.47 587.59,543.68 606.06,453.84 624.53,476.21 643,468.33 661.47,499.75 679.94,499.75 698.41,453.26 716.88,519.34 716.88,538.81 698.41,541.83 679.94,530.35 661.47,517.95 643,496.96 624.53,494.18 606.06,483.05 587.59,543.68 569.12,544.14 550.65,555.27 532.18,561.65 513.71,585.53 495.24,599.79 476.77,626.91" fill="#32B8D8" fill-opacity="0.2" stroke="#32B8D8" stroke-opacity="0.2" stroke-width="1.3" stroke-linejoin="round"/>
<polygon points="476.77,588.66 495.24,586.45 513.71,580.66 532.18,555.27 550.65,537.77 569.12,470.42 587.59,543.68 606.06,400.98 624.53,467.29 643,465.55 661.47,472.04 679.94,502.64 698.41,488.73 716.88,509.48 716.88,547.85 698.41,526.18 679.94,528.96 661.47,509.48 643,495.57 624.53,506.24 606.06,453.84 587.59,543.68 569.12,520.26 550.65,572.78 532.18,579.15 513.71,607.78 495.24,612.54 476.77,626.91" fill="#E75058" fill-opacity="0.2" stroke="#E75058" stroke-opacity="0.2" stroke-width="1.3" stroke-linejoin="round"/>
<path d="M476.77 619.49L495.24 591.21L513.71 581.35L532.18 552.14L550.65 546.35L569.12 537.77L587.59 543.68L606.06 468.33L624.53 487.81L643 483.87L661.47 509.48L679.94 516.55L698.41 508.21L716.88 526.18" stroke="#32B8D8" stroke-width="2.4" fill="none" stroke-linejoin="round" stroke-linecap="round"/>
<circle cx="476.77" cy="619.49" r="4.45" fill="#32B8D8" stroke="#fff" stroke-width="1.2"/>
<circle cx="495.24" cy="591.21" r="4.45" fill="#32B8D8" stroke="#fff" stroke-width="1.2"/>
<circle cx="513.71" cy="581.35" r="4.45" fill="#32B8D8" stroke="#fff" stroke-width="1.2"/>
<circle cx="532.18" cy="552.14" r="4.45" fill="#32B8D8" stroke="#fff" stroke-width="1.2"/>
<circle cx="550.65" cy="546.35" r="4.45" fill="#32B8D8" stroke="#fff" stroke-width="1.2"/>
<circle cx="569.12" cy="537.77" r="4.45" fill="#32B8D8" stroke="#fff" stroke-width="1.2"/>
<circle cx="587.59" cy="543.68" r="4.45" fill="#32B8D8" stroke="#fff" stroke-width="1.2"/>
<circle cx="606.06" cy="468.33" r="4.45" fill="#32B8D8" stroke="#fff" stroke-width="1.2"/>
<circle cx="624.53" cy="487.81" r="4.45" fill="#32B8D8" stroke="#fff" stroke-width="1.2"/>
<circle cx="643" cy="483.87" r="4.45" fill="#32B8D8" stroke="#fff" stroke-width="1.2"/>
<circle cx="661.47" cy="509.48" r="4.45" fill="#32B8D8" stroke="#fff" stroke-width="1.2"/>
<circle cx="679.94" cy="516.55" r="4.45" fill="#32B8D8" stroke="#fff" stroke-width="1.2"/>
<circle cx="698.41" cy="508.21" r="4.45" fill="#32B8D8" stroke="#fff" stroke-width="1.2"/>
<circle cx="716.88" cy="526.18" r="4.45" fill="#32B8D8" stroke="#fff" stroke-width="1.2"/>
<path d="M476.77 611.96L495.24 601.41L513.71 597.58L532.18 565.24L550.65 556.2L569.12 498.7L587.59 543.68L606.06 435.29L624.53 487.81L643 480.27L661.47 490.12L679.94 516.55L698.41 508.21L716.88 532.09" stroke="#E75058" stroke-width="2.4" fill="none" stroke-linejoin="round" stroke-linecap="round"/>
<circle cx="476.77" cy="611.96" r="4.45" fill="#E75058" stroke="#fff" stroke-width="1.2"/>
<circle cx="495.24" cy="601.41" r="4.45" fill="#E75058" stroke="#fff" stroke-width="1.2"/>
<circle cx="513.71" cy="597.58" r="4.45" fill="#E75058" stroke="#fff" stroke-width="1.2"/>
<circle cx="532.18" cy="565.24" r="4.45" fill="#E75058" stroke="#fff" stroke-width="1.2"/>
<circle cx="550.65" cy="556.2" r="4.45" fill="#E75058" stroke="#fff" stroke-width="1.2"/>
<circle cx="569.12" cy="498.7" r="4.45" fill="#E75058" stroke="#fff" stroke-width="1.2"/>
<circle cx="587.59" cy="543.68" r="4.45" fill="#E75058" stroke="#fff" stroke-width="1.2"/>
<circle cx="606.06" cy="435.29" r="4.45" fill="#E75058" stroke="#fff" stroke-width="1.2"/>
<circle cx="624.53" cy="487.81" r="4.45" fill="#E75058" stroke="#fff" stroke-width="1.2"/>
<circle cx="643" cy="480.27" r="4.45" fill="#E75058" stroke="#fff" stroke-width="1.2"/>
<circle cx="661.47" cy="490.12" r="4.45" fill="#E75058" stroke="#fff" stroke-width="1.2"/>
<circle cx="679.94" cy="516.55" r="4.45" fill="#E75058" stroke="#fff" stroke-width="1.2"/>
<circle cx="698.41" cy="508.21" r="4.45" fill="#E75058" stroke="#fff" stroke-width="1.2"/>
<circle cx="716.88" cy="532.09" r="4.45" fill="#E75058" stroke="#fff" stroke-width="1.2"/>
<rect x="437.5" y="369.8" width="301.3" height="289.8" fill="none" stroke="#fff" stroke-width="1.74"/>
<text transform="translate(587.65,360.40) scale(1,0.963)" x="-65.22" y="0" font-size="17.4" textLength="130.08" lengthAdjust="spacing" fill="#262626">source = Interest</text>
<path d="M738.4 630.1h8.6" stroke="#6A6A6A" stroke-width="1.75"/>
<text transform="translate(751.60,634.50)" x="0.00" y="0" font-size="11.8" textLength="13.13" lengthAdjust="spacing" fill="#808080">60</text>
<text transform="translate(463.50,675.40) rotate(-90)" x="-40.16" y="0" font-size="16.0" textLength="40.92" lengthAdjust="spacing" fill="#262626">18-19</text>
<text transform="translate(481.97,675.40) rotate(-90)" x="-40.45" y="0" font-size="16.0" textLength="40.92" lengthAdjust="spacing" fill="#262626">20-24</text>
<text transform="translate(500.44,675.40) rotate(-90)" x="-40.16" y="0" font-size="16.0" textLength="40.92" lengthAdjust="spacing" fill="#262626">25-29</text>
<text transform="translate(518.91,675.40) rotate(-90)" x="-40.45" y="0" font-size="16.0" textLength="40.92" lengthAdjust="spacing" fill="#262626">30-34</text>
<text transform="translate(537.38,675.40) rotate(-90)" x="-40.16" y="0" font-size="16.0" textLength="40.92" lengthAdjust="spacing" fill="#262626">35-39</text>
<text transform="translate(555.85,675.40) rotate(-90)" x="-40.45" y="0" font-size="16.0" textLength="40.92" lengthAdjust="spacing" fill="#262626">40-44</text>
<text transform="translate(574.32,675.40) rotate(-90)" x="-40.16" y="0" font-size="16.0" textLength="40.92" lengthAdjust="spacing" fill="#262626">45-49</text>
<text transform="translate(592.79,675.40) rotate(-90)" x="-40.45" y="0" font-size="16.0" textLength="40.92" lengthAdjust="spacing" fill="#262626">50-54</text>
<text transform="translate(611.26,675.40) rotate(-90)" x="-40.16" y="0" font-size="16.0" textLength="40.92" lengthAdjust="spacing" fill="#262626">55-59</text>
<text transform="translate(629.73,675.40) rotate(-90)" x="-40.45" y="0" font-size="16.0" textLength="40.92" lengthAdjust="spacing" fill="#262626">60-64</text>
<text transform="translate(648.20,675.40) rotate(-90)" x="-40.16" y="0" font-size="16.0" textLength="40.92" lengthAdjust="spacing" fill="#262626">65-69</text>
<text transform="translate(666.67,675.40) rotate(-90)" x="-40.45" y="0" font-size="16.0" textLength="40.92" lengthAdjust="spacing" fill="#262626">70-74</text>
<text transform="translate(685.14,675.40) rotate(-90)" x="-40.16" y="0" font-size="16.0" textLength="40.92" lengthAdjust="spacing" fill="#262626">75-79</text>
<text transform="translate(703.61,675.40) rotate(-90)" x="-40.45" y="0" font-size="16.0" textLength="40.92" lengthAdjust="spacing" fill="#262626">80-84</text>
<text transform="translate(722.08,675.40) rotate(-90)" x="-26.35" y="0" font-size="16.0" textLength="27.14" lengthAdjust="spacing" fill="#262626">85+</text>
<rect x="793.7" y="369.8" width="301.3" height="289.8" fill="#EAEAF2"/>
<path d="M793.7 630.1H1095" stroke="#fff" stroke-width="1.4"/>
<rect x="807.11" y="654.8" width="14.78" height="4.8" fill="#D4D4D6" stroke="#FBFBFC" stroke-width="1.4"/>
<rect x="825.58" y="641.3" width="14.78" height="18.3" fill="#D4D4D6" stroke="#FBFBFC" stroke-width="1.4"/>
<rect x="844.05" y="636.05" width="14.78" height="23.55" fill="#D4D4D6" stroke="#FBFBFC" stroke-width="1.4"/>
<rect x="862.52" y="630.1" width="14.78" height="29.5" fill="#D4D4D6" stroke="#FBFBFC" stroke-width="1.4"/>
<rect x="880.99" y="632.3" width="14.78" height="27.3" fill="#D4D4D6" stroke="#FBFBFC" stroke-width="1.4"/>
<rect x="899.46" y="635.05" width="14.78" height="24.55" fill="#D4D4D6" stroke="#FBFBFC" stroke-width="1.4"/>
<rect x="917.93" y="637.05" width="14.78" height="22.55" fill="#D4D4D6" stroke="#FBFBFC" stroke-width="1.4"/>
<rect x="936.4" y="635.05" width="14.78" height="24.55" fill="#D4D4D6" stroke="#FBFBFC" stroke-width="1.4"/>
<rect x="954.87" y="635.05" width="14.78" height="24.55" fill="#D4D4D6" stroke="#FBFBFC" stroke-width="1.4"/>
<rect x="973.34" y="638.8" width="14.78" height="20.8" fill="#D4D4D6" stroke="#FBFBFC" stroke-width="1.4"/>
<rect x="991.81" y="644.8" width="14.78" height="14.8" fill="#D4D4D6" stroke="#FBFBFC" stroke-width="1.4"/>
<rect x="1010.28" y="648.55" width="14.78" height="11.05" fill="#D4D4D6" stroke="#FBFBFC" stroke-width="1.4"/>
<rect x="1028.75" y="651.8" width="14.78" height="7.8" fill="#D4D4D6" stroke="#FBFBFC" stroke-width="1.4"/>
<rect x="1047.22" y="655.55" width="14.78" height="4.05" fill="#D4D4D6" stroke="#FBFBFC" stroke-width="1.4"/>
<rect x="1065.69" y="656.05" width="14.78" height="3.55" fill="#D4D4D6" stroke="#FBFBFC" stroke-width="1.4"/>
<path d="M814.5 369.8V659.6M832.97 369.8V659.6M851.44 369.8V659.6M869.91 369.8V659.6M888.38 369.8V659.6M906.85 369.8V659.6M925.32 369.8V659.6M943.79 369.8V659.6M962.26 369.8V659.6M980.73 369.8V659.6M999.2 369.8V659.6M1017.67 369.8V659.6M1036.14 369.8V659.6M1054.61 369.8V659.6M1073.08 369.8V659.6M793.7 659.6H1095M793.7 601.64H1095M793.7 543.68H1095M793.7 485.72H1095M793.7 427.76H1095M793.7 369.8H1095" stroke="#fff" stroke-width="1.4" fill="none"/>
<polygon points="814.5,623.09 832.97,605.58 851.44,579.38 869.91,564.55 888.38,556.55 906.85,549.94 925.32,546 943.79,543.68 962.26,538.12 980.73,543.45 999.2,543.1 1017.67,547.51 1036.14,557.24 1054.61,555.74 1073.08,540.78 1073.08,544.26 1054.61,559.21 1036.14,560.72 1017.67,550.98 999.2,546.58 980.73,546.93 962.26,541.59 943.79,543.68 925.32,549.48 906.85,553.42 888.38,560.02 869.91,568.02 851.44,582.86 832.97,609.06 814.5,626.56" fill="#32B8D8" fill-opacity="0.2" stroke="#32B8D8" stroke-opacity="0.2" stroke-width="1.3" stroke-linejoin="round"/>
<polygon points="814.5,623.09 832.97,603.15 851.44,575.33 869.91,557.82 888.38,548.9 906.85,544.03 925.32,543.22 943.79,543.68 962.26,534.17 980.73,538.12 999.2,535.45 1017.67,539.04 1036.14,543.1 1054.61,548.2 1073.08,539.51 1073.08,542.98 1054.61,551.68 1036.14,546.58 1017.67,542.52 999.2,538.93 980.73,541.59 962.26,537.65 943.79,543.68 925.32,546.69 906.85,547.51 888.38,552.37 869.91,561.3 851.44,578.8 832.97,606.62 814.5,626.56" fill="#E75058" fill-opacity="0.2" stroke="#E75058" stroke-opacity="0.2" stroke-width="1.3" stroke-linejoin="round"/>
<path d="M814.5 624.82L832.97 607.32L851.44 581.12L869.91 566.28L888.38 558.29L906.85 551.68L925.32 547.74L943.79 543.68L962.26 539.85L980.73 545.19L999.2 544.84L1017.67 549.24L1036.14 558.98L1054.61 557.47L1073.08 542.52" stroke="#32B8D8" stroke-width="2.4" fill="none" stroke-linejoin="round" stroke-linecap="round"/>
<circle cx="814.5" cy="624.82" r="4.45" fill="#32B8D8" stroke="#fff" stroke-width="1.2"/>
<circle cx="832.97" cy="607.32" r="4.45" fill="#32B8D8" stroke="#fff" stroke-width="1.2"/>
<circle cx="851.44" cy="581.12" r="4.45" fill="#32B8D8" stroke="#fff" stroke-width="1.2"/>
<circle cx="869.91" cy="566.28" r="4.45" fill="#32B8D8" stroke="#fff" stroke-width="1.2"/>
<circle cx="888.38" cy="558.29" r="4.45" fill="#32B8D8" stroke="#fff" stroke-width="1.2"/>
<circle cx="906.85" cy="551.68" r="4.45" fill="#32B8D8" stroke="#fff" stroke-width="1.2"/>
<circle cx="925.32" cy="547.74" r="4.45" fill="#32B8D8" stroke="#fff" stroke-width="1.2"/>
<circle cx="943.79" cy="543.68" r="4.45" fill="#32B8D8" stroke="#fff" stroke-width="1.2"/>
<circle cx="962.26" cy="539.85" r="4.45" fill="#32B8D8" stroke="#fff" stroke-width="1.2"/>
<circle cx="980.73" cy="545.19" r="4.45" fill="#32B8D8" stroke="#fff" stroke-width="1.2"/>
<circle cx="999.2" cy="544.84" r="4.45" fill="#32B8D8" stroke="#fff" stroke-width="1.2"/>
<circle cx="1017.67" cy="549.24" r="4.45" fill="#32B8D8" stroke="#fff" stroke-width="1.2"/>
<circle cx="1036.14" cy="558.98" r="4.45" fill="#32B8D8" stroke="#fff" stroke-width="1.2"/>
<circle cx="1054.61" cy="557.47" r="4.45" fill="#32B8D8" stroke="#fff" stroke-width="1.2"/>
<circle cx="1073.08" cy="542.52" r="4.45" fill="#32B8D8" stroke="#fff" stroke-width="1.2"/>
<path d="M814.5 624.82L832.97 604.89L851.44 577.06L869.91 559.56L888.38 550.64L906.85 545.77L925.32 544.96L943.79 543.68L962.26 535.91L980.73 539.85L999.2 537.19L1017.67 540.78L1036.14 544.84L1054.61 549.94L1073.08 541.25" stroke="#E75058" stroke-width="2.4" fill="none" stroke-linejoin="round" stroke-linecap="round"/>
<circle cx="814.5" cy="624.82" r="4.45" fill="#E75058" stroke="#fff" stroke-width="1.2"/>
<circle cx="832.97" cy="604.89" r="4.45" fill="#E75058" stroke="#fff" stroke-width="1.2"/>
<circle cx="851.44" cy="577.06" r="4.45" fill="#E75058" stroke="#fff" stroke-width="1.2"/>
<circle cx="869.91" cy="559.56" r="4.45" fill="#E75058" stroke="#fff" stroke-width="1.2"/>
<circle cx="888.38" cy="550.64" r="4.45" fill="#E75058" stroke="#fff" stroke-width="1.2"/>
<circle cx="906.85" cy="545.77" r="4.45" fill="#E75058" stroke="#fff" stroke-width="1.2"/>
<circle cx="925.32" cy="544.96" r="4.45" fill="#E75058" stroke="#fff" stroke-width="1.2"/>
<circle cx="943.79" cy="543.68" r="4.45" fill="#E75058" stroke="#fff" stroke-width="1.2"/>
<circle cx="962.26" cy="535.91" r="4.45" fill="#E75058" stroke="#fff" stroke-width="1.2"/>
<circle cx="980.73" cy="539.85" r="4.45" fill="#E75058" stroke="#fff" stroke-width="1.2"/>
<circle cx="999.2" cy="537.19" r="4.45" fill="#E75058" stroke="#fff" stroke-width="1.2"/>
<circle cx="1017.67" cy="540.78" r="4.45" fill="#E75058" stroke="#fff" stroke-width="1.2"/>
<circle cx="1036.14" cy="544.84" r="4.45" fill="#E75058" stroke="#fff" stroke-width="1.2"/>
<circle cx="1054.61" cy="549.94" r="4.45" fill="#E75058" stroke="#fff" stroke-width="1.2"/>
<circle cx="1073.08" cy="541.25" r="4.45" fill="#E75058" stroke="#fff" stroke-width="1.2"/>
<rect x="793.7" y="369.8" width="301.3" height="289.8" fill="none" stroke="#fff" stroke-width="1.74"/>
<text transform="translate(943.85,360.40) scale(1,0.963)" x="-57.88" y="0" font-size="17.4" textLength="115.57" lengthAdjust="spacing" fill="#262626">source = Other</text>
<path d="M1094.6 630.1h8.6" stroke="#6A6A6A" stroke-width="1.75"/>
<text transform="translate(1107.80,634.50)" x="0.00" y="0" font-size="11.8" textLength="36.09" lengthAdjust="spacing" fill="#808080">32,248</text>
<text transform="translate(819.70,675.40) rotate(-90)" x="-40.16" y="0" font-size="16.0" textLength="40.92" lengthAdjust="spacing" fill="#262626">18-19</text>
<text transform="translate(838.17,675.40) rotate(-90)" x="-40.45" y="0" font-size="16.0" textLength="40.92" lengthAdjust="spacing" fill="#262626">20-24</text>
<text transform="translate(856.64,675.40) rotate(-90)" x="-40.16" y="0" font-size="16.0" textLength="40.92" lengthAdjust="spacing" fill="#262626">25-29</text>
<text transform="translate(875.11,675.40) rotate(-90)" x="-40.45" y="0" font-size="16.0" textLength="40.92" lengthAdjust="spacing" fill="#262626">30-34</text>
<text transform="translate(893.58,675.40) rotate(-90)" x="-40.16" y="0" font-size="16.0" textLength="40.92" lengthAdjust="spacing" fill="#262626">35-39</text>
<text transform="translate(912.05,675.40) rotate(-90)" x="-40.45" y="0" font-size="16.0" textLength="40.92" lengthAdjust="spacing" fill="#262626">40-44</text>
<text transform="translate(930.52,675.40) rotate(-90)" x="-40.16" y="0" font-size="16.0" textLength="40.92" lengthAdjust="spacing" fill="#262626">45-49</text>
<text transform="translate(948.99,675.40) rotate(-90)" x="-40.45" y="0" font-size="16.0" textLength="40.92" lengthAdjust="spacing" fill="#262626">50-54</text>
<text transform="translate(967.46,675.40) rotate(-90)" x="-40.16" y="0" font-size="16.0" textLength="40.92" lengthAdjust="spacing" fill="#262626">55-59</text>
<text transform="translate(985.93,675.40) rotate(-90)" x="-40.45" y="0" font-size="16.0" textLength="40.92" lengthAdjust="spacing" fill="#262626">60-64</text>
<text transform="translate(1004.40,675.40) rotate(-90)" x="-40.16" y="0" font-size="16.0" textLength="40.92" lengthAdjust="spacing" fill="#262626">65-69</text>
<text transform="translate(1022.87,675.40) rotate(-90)" x="-40.45" y="0" font-size="16.0" textLength="40.92" lengthAdjust="spacing" fill="#262626">70-74</text>
<text transform="translate(1041.34,675.40) rotate(-90)" x="-40.16" y="0" font-size="16.0" textLength="40.92" lengthAdjust="spacing" fill="#262626">75-79</text>
<text transform="translate(1059.81,675.40) rotate(-90)" x="-40.45" y="0" font-size="16.0" textLength="40.92" lengthAdjust="spacing" fill="#262626">80-84</text>
<text transform="translate(1078.28,675.40) rotate(-90)" x="-26.35" y="0" font-size="16.0" textLength="27.14" lengthAdjust="spacing" fill="#262626">85+</text>
<text transform="translate(25.70,360.55) rotate(-90)" x="-238.02" y="0" font-size="21.1" textLength="475.63" lengthAdjust="spacing" fill="#262626">Mean weekly income (base: 50-54 age band = 1.0)</text>
<text transform="translate(587.75,740.20)" x="-44.20" y="0" font-size="20.95" textLength="89.70" lengthAdjust="spacing" fill="#262626">Age band</text>
<text transform="translate(1107.90,514.95) rotate(-90)" x="-67.08" y="0" font-size="11.6" textLength="134.55" lengthAdjust="spacing" fill="#808080">Average number of clients</text>
<text transform="translate(1153.98,341.50)" x="-14.77" y="0" font-size="16.8" textLength="28.95" lengthAdjust="spacing" fill="#262626">Sex</text>
<path d="M1123.4 359.9H1157.6" stroke="#32B8D8" stroke-width="2.4"/>
<circle cx="1140.5" cy="359.9" r="4.45" fill="#32B8D8" stroke="#fff" stroke-width="1.2"/>
<text transform="translate(1171.30,365.60) scale(1,1.035)" x="-1.31" y="0" font-size="16.0" textLength="9.77" lengthAdjust="spacing" fill="#262626">F</text>
<path d="M1123.4 383.1H1157.6" stroke="#E75058" stroke-width="2.4"/>
<circle cx="1140.5" cy="383.1" r="4.45" fill="#E75058" stroke="#fff" stroke-width="1.2"/>
<text transform="translate(1171.30,388.60) scale(1,1.035)" x="-1.31" y="0" font-size="16.0" textLength="13.33" lengthAdjust="spacing" fill="#262626">M</text>
</svg>
</body></html>
